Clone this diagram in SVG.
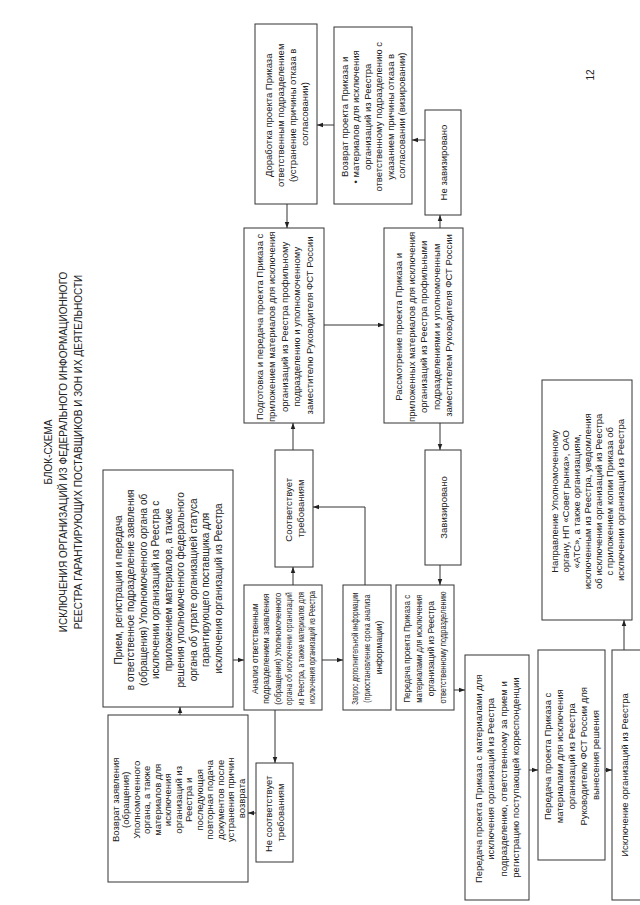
<svg xmlns="http://www.w3.org/2000/svg" width="640" height="905" viewBox="0 0 640 905">
<style>
rect.b{fill:#fff;stroke:#333;stroke-width:1}
text{font-family:"Liberation Sans",Arial,sans-serif;font-size:9.5px;fill:#222;text-anchor:middle}
text.h{font-size:10px}
text.s{font-size:8.5px}
.c path{fill:none;stroke:#333;stroke-width:1}
</style>
<defs>
<marker id="a" viewBox="0 0 8 8" refX="8" refY="4" markerWidth="6" markerHeight="6" orient="auto" markerUnits="userSpaceOnUse"><path d="M0,1 L8,4 L0,7 z" fill="#222"/></marker>
</defs>
<rect width="640" height="905" fill="#fff"/>
<g id="title" transform="translate(0,452) rotate(-90)">
<text class="h"><tspan x="0" y="52">БЛОК-СХЕМА</tspan><tspan x="0" y="67">ИСКЛЮЧЕНИЯ ОРГАНИЗАЦИЙ ИЗ ФЕДЕРАЛЬНОГО ИНФОРМАЦИОННОГО</tspan><tspan x="0" y="82">РЕЕСТРА ГАРАНТИРУЮЩИХ ПОСТАВЩИКОВ И ЗОН ИХ ДЕЯТЕЛЬНОСТИ</tspan></text>
</g>
<g id="pagenum" transform="translate(590,75) rotate(-90)"><text class="h" y="3.5">12</text></g>

<g id="priem"><rect class="b" x="103" y="470" width="130" height="237"/>
<g transform="translate(168,588.5) rotate(-90)"><text class="h">
<tspan x="0" y="-46.5">Прием, регистрация и передача</tspan>
<tspan x="0" y="-34">в ответственное подразделение заявления</tspan>
<tspan x="0" y="-21.5">(обращения) Уполномоченного органа об</tspan>
<tspan x="0" y="-9">исключении организаций из Реестра с</tspan>
<tspan x="0" y="3.5">приложением материалов, а также</tspan>
<tspan x="0" y="16">решения уполномоченного федерального</tspan>
<tspan x="0" y="28.5">органа об утрате организацией статуса</tspan>
<tspan x="0" y="41">гарантирующего поставщика для</tspan>
<tspan x="0" y="53.5">исключения организаций из Реестра</tspan>
</text></g></g>

<g id="vozvrat"><rect class="b" x="108" y="715" width="140" height="167"/>
<g transform="translate(178,798.5) rotate(-90)"><text>
<tspan x="0" y="-59.5">Возврат заявления</tspan>
<tspan x="0" y="-49">(обращения)</tspan>
<tspan x="0" y="-38.5">Уполномоченного</tspan>
<tspan x="0" y="-28">органа, а также</tspan>
<tspan x="0" y="-17.5">материалов для</tspan>
<tspan x="0" y="-7">исключения</tspan>
<tspan x="0" y="3.5">организаций из</tspan>
<tspan x="0" y="14">Реестра и</tspan>
<tspan x="0" y="24.5">последующая</tspan>
<tspan x="0" y="35">повторная подача</tspan>
<tspan x="0" y="45.5">документов после</tspan>
<tspan x="0" y="56">устранения причин</tspan>
<tspan x="0" y="66.5">возврата</tspan>
</text></g></g>

<g id="ne_sootv"><rect class="b" x="256" y="763" width="37" height="99"/>
<g transform="translate(274.5,812.5) rotate(-90)"><text>
<tspan x="0" y="-2.5">Не соответствует</tspan>
<tspan x="0" y="9.5">требованиям</tspan>
</text></g></g>

<g id="analiz"><rect class="b" x="244" y="585" width="78" height="125"/>
<g transform="translate(283,647.5) rotate(-90)"><text class="s">
<tspan x="0" y="-25.5">Анализ ответственным</tspan>
<tspan x="0" y="-14">подразделением заявления</tspan>
<tspan x="0" y="-2.5" textLength="112" lengthAdjust="spacingAndGlyphs">(обращения) Уполномоченного</tspan>
<tspan x="0" y="9" textLength="113" lengthAdjust="spacingAndGlyphs">органа об исключении организаций</tspan>
<tspan x="0" y="20.5" textLength="113" lengthAdjust="spacingAndGlyphs">из Реестра, а также материалов для</tspan>
<tspan x="0" y="32" textLength="113" lengthAdjust="spacingAndGlyphs">исключения организаций из Реестра</tspan>
</text></g></g>

<g id="sootv"><rect class="b" x="275" y="450" width="38" height="117"/>
<g transform="translate(294,508.5) rotate(-90)"><text>
<tspan x="0" y="-2.5">Соответствует</tspan>
<tspan x="0" y="9.5">требованиям</tspan>
</text></g></g>

<g id="podgotovka"><rect class="b" x="244" y="228" width="80" height="195"/>
<g transform="translate(284,325.5) rotate(-90)"><text>
<tspan x="0" y="-21.5">Подготовка и передача проекта Приказа с</tspan>
<tspan x="0" y="-9">приложением материалов для исключения</tspan>
<tspan x="0" y="3.5">организаций из Реестра профильному</tspan>
<tspan x="0" y="16">подразделению и уполномоченному</tspan>
<tspan x="0" y="28.5">заместителю Руководителя ФСТ России</tspan>
</text></g></g>

<g id="dorabotka"><rect class="b" x="255" y="24" width="62" height="180"/>
<g transform="translate(286,114) rotate(-90)"><text>
<tspan x="0" y="-14.5">Доработка проекта Приказа</tspan>
<tspan x="0" y="-2.5">ответственным подразделением</tspan>
<tspan x="0" y="9.5">(устранение причины отказа в</tspan>
<tspan x="0" y="21.5">согласовании)</tspan>
</text></g></g>

<g id="vozvrat_proekta"><rect class="b" x="334" y="27" width="78" height="177"/>
<g transform="translate(373,115.5) rotate(-90)"><text>
<tspan x="0" y="-25.25">Возврат проекта Приказа и</tspan>
<tspan x="0" y="-13.75">• материалов для исключения</tspan>
<tspan x="0" y="-2.25">организаций из Реестра</tspan>
<tspan x="0" y="9.25">ответственному подразделению с</tspan>
<tspan x="0" y="20.75">указанием причины отказа в</tspan>
<tspan x="0" y="32.25">согласовании (визировании)</tspan>
</text></g></g>

<g id="ne_viz"><rect class="b" x="425" y="110" width="36" height="105"/>
<g transform="translate(443,162.5) rotate(-90)"><text y="3.5">Не завизировано</text></g></g>

<g id="rassmotrenie"><rect class="b" x="384" y="228" width="79" height="195"/>
<g transform="translate(423.5,325.5) rotate(-90)"><text>
<tspan x="0" y="-21.5">Рассмотрение проекта Приказа и</tspan>
<tspan x="0" y="-9">приложенных материалов для исключения</tspan>
<tspan x="0" y="3.5">организаций из Реестра профильными</tspan>
<tspan x="0" y="16">подразделениями и уполномоченным</tspan>
<tspan x="0" y="28.5">заместителем Руководителя ФСТ России</tspan>
</text></g></g>

<g id="viz"><rect class="b" x="425" y="450" width="36" height="115"/>
<g transform="translate(443,507.5) rotate(-90)"><text y="3.5">Завизировано</text></g></g>

<g id="zapros"><rect class="b" x="343" y="585" width="48" height="125"/>
<g transform="translate(367,647.5) rotate(-90)"><text class="s">
<tspan x="0" y="-9" textLength="112" lengthAdjust="spacingAndGlyphs">Запрос дополнительной информации</tspan>
<tspan x="0" y="3" textLength="108" lengthAdjust="spacingAndGlyphs">(приостановление срока анализа</tspan>
<tspan x="0" y="15">информации)</tspan>
</text></g></g>

<g id="peredacha_otv"><rect class="b" x="396" y="585" width="58" height="125"/>
<g transform="translate(425,647.5) rotate(-90)"><text class="s">
<tspan x="0" y="-15" textLength="108" lengthAdjust="spacingAndGlyphs">Передача проекта Приказа с</tspan>
<tspan x="0" y="-3" textLength="108" lengthAdjust="spacingAndGlyphs">материалами для исключения</tspan>
<tspan x="0" y="9">организаций из Реестра</tspan>
<tspan x="0" y="21" textLength="112" lengthAdjust="spacingAndGlyphs">ответственному подразделению</tspan>
</text></g></g>

<g id="peredacha_priem"><rect class="b" x="465" y="655" width="64" height="245"/>
<g transform="translate(497,777.5) rotate(-90)"><text>
<tspan x="0" y="-15.25">Передача проекта Приказа с материалами для</tspan>
<tspan x="0" y="-2.75">исключения организаций из Реестра</tspan>
<tspan x="0" y="9.75">подразделению, ответственному за прием и</tspan>
<tspan x="0" y="22.25">регистрацию поступающей корреспонденции</tspan>
</text></g></g>

<g id="peredacha_ruk"><rect class="b" x="538" y="650" width="67" height="210"/>
<g transform="translate(571.5,755) rotate(-90)"><text>
<tspan x="0" y="-20.5">Передача проекта Приказа с</tspan>
<tspan x="0" y="-8.5">материалами для исключения</tspan>
<tspan x="0" y="3.5">организаций из Реестра</tspan>
<tspan x="0" y="15.5">Руководителю ФСТ России для</tspan>
<tspan x="0" y="27.5">вынесения решения</tspan>
</text></g></g>

<g id="isklyuchenie"><rect class="b" x="612" y="650" width="40" height="250"/>
<g transform="translate(624,775) rotate(-90)"><text y="3.5">Исключение организаций из Реестра</text></g></g>

<g id="napravlenie"><rect class="b" x="542" y="380" width="90" height="240"/>
<g transform="translate(587,500) rotate(-90)"><text>
<tspan x="0" y="-29.5">Направление Уполномоченному</tspan>
<tspan x="0" y="-18.5">органу, НП «Совет рынка», ОАО</tspan>
<tspan x="0" y="-7.5">«АТС», а также организациям,</tspan>
<tspan x="0" y="3.5">исключенным из Реестра, уведомления</tspan>
<tspan x="0" y="14.5">об исключении организаций из Реестра</tspan>
<tspan x="0" y="25.5">с приложением копии Приказа об</tspan>
<tspan x="0" y="36.5">исключении организаций из Реестра</tspan>
</text></g></g>

<g class="c" id="connectors">
<path d="M180,715 V707" marker-end="url(#a)"/>
<path d="M233,660 H244" marker-end="url(#a)"/>
<path d="M293,585 V567" marker-end="url(#a)"/>
<path d="M293,450 V423" marker-end="url(#a)"/>
<path d="M275,710 V763" marker-end="url(#a)"/>
<path d="M256,813 H248" marker-end="url(#a)"/>
<path d="M322,660 H343" marker-end="url(#a)"/>
<path d="M365,585 V507 H313" marker-end="url(#a)"/>
<path d="M324,325 H384" marker-end="url(#a)"/>
<path d="M440,228 V215" marker-end="url(#a)"/>
<path d="M425,140 H412" marker-end="url(#a)"/>
<path d="M334,125 H317" marker-end="url(#a)"/>
<path d="M287,204 V228" marker-end="url(#a)"/>
<path d="M440,423 V450" marker-end="url(#a)"/>
<path d="M440,565 V585" marker-end="url(#a)"/>
<path d="M454,690 H465" marker-end="url(#a)"/>
<path d="M529,770 H538" marker-end="url(#a)"/>
<path d="M605,770 H612" marker-end="url(#a)"/>
<path d="M624,650 V620" marker-end="url(#a)"/>
</g>
</svg>
